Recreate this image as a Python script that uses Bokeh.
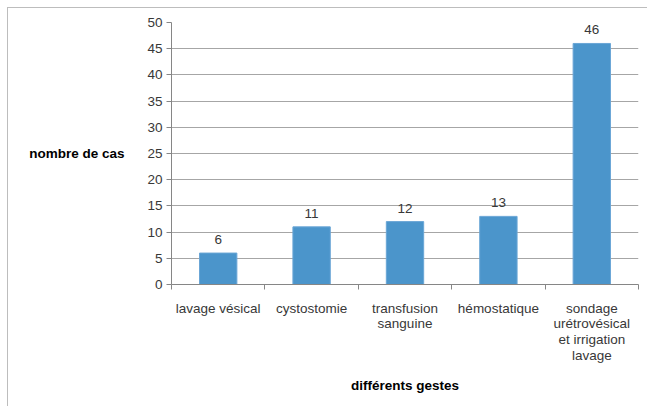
from bokeh.plotting import figure
from bokeh.models import ColumnDataSource, Range1d, FixedTicker
from bokeh.core.properties import value
from bokeh.embed import file_html
from bokeh.resources import INLINE

categories = ["lavage vésical", "cystostomie", "transfusion\nsanguine",
              "hémostatique", "sondage\nurétrovésical\net irrigation\nlavage"]
counts = [6, 11, 12, 13, 46]
y_ticks = [0, 5, 10, 15, 20, 25, 30, 35, 40, 45, 50]

xs = [i + 0.5 for i in range(len(categories))]
src = ColumnDataSource(dict(x=xs, y=counts, lab=[str(c) for c in counts]))

p = figure(width=640, height=399, output_backend="svg", toolbar_location=None,
           x_range=Range1d(0, len(categories)), y_range=Range1d(0, 50),
           min_border_left=163, min_border_right=10, min_border_top=14,
           min_border_bottom=123)
p.styles = {"border-left": "1px solid #BDBDBD", "border-top": "1px solid #BDBDBD",
            "margin-left": "7px", "margin-top": "7px"}
p.outline_line_color = None
p.background_fill_color = "white"

FONT = "Liberation Sans"
TXT = "#383838"

p.vbar(x="x", top="y", width=0.4, bottom=0, source=src,
       fill_color="#4B95CB", line_color="#6AA6D6", line_width=1)
p.text(x="x", y="y", text="lab", source=src, text_align="center",
       text_baseline="bottom", y_offset=-9, text_font=value(FONT),
       text_font_size="13.5px", text_color=TXT)

# y axis
p.yaxis.ticker = FixedTicker(ticks=y_ticks)
p.yaxis.axis_line_color = "#868686"
p.yaxis.major_tick_line_color = "#868686"
p.yaxis.major_tick_out = 5
p.yaxis.major_tick_in = 0
p.yaxis.minor_tick_line_color = None
p.yaxis.major_label_text_font = FONT
p.yaxis.major_label_text_font_size = "13.5px"
p.yaxis.major_label_text_color = TXT
p.yaxis.major_label_standoff = 4
p.yaxis.axis_label = "nombre de cas"
p.yaxis.axis_label_orientation = "horizontal"
p.yaxis.axis_label_text_font = FONT
p.yaxis.axis_label_text_font_size = "13.5px"
p.yaxis.axis_label_text_font_style = "bold"
p.yaxis.axis_label_text_color = "black"
p.yaxis.axis_label_standoff = 20

# x axis
p.xaxis.ticker = FixedTicker(ticks=xs, minor_ticks=list(range(len(categories) + 1)))
p.xaxis.major_label_overrides = {x: c for x, c in zip(xs, categories)}
p.xaxis.axis_line_color = "#868686"
p.xaxis.major_tick_line_color = None
p.xaxis.minor_tick_line_color = "#868686"
p.xaxis.minor_tick_out = 5
p.xaxis.minor_tick_in = 0
p.xaxis.major_label_text_font = FONT
p.xaxis.major_label_text_font_size = "13.5px"
p.xaxis.major_label_text_line_height = 1.05
p.xaxis.major_label_text_color = TXT
p.xaxis.major_label_standoff = 10
p.xaxis.axis_label = "différents gestes"
p.xaxis.axis_label_text_font = FONT
p.xaxis.axis_label_text_font_size = "13.5px"
p.xaxis.axis_label_text_font_style = "bold"
p.xaxis.axis_label_text_color = "black"
p.xaxis.axis_label_standoff = 12

p.xgrid.grid_line_color = None
p.ygrid.ticker = FixedTicker(ticks=y_ticks)
p.ygrid.grid_line_color = "#A6A6A6"

open("out.html", "w").write(file_html(p, INLINE))
